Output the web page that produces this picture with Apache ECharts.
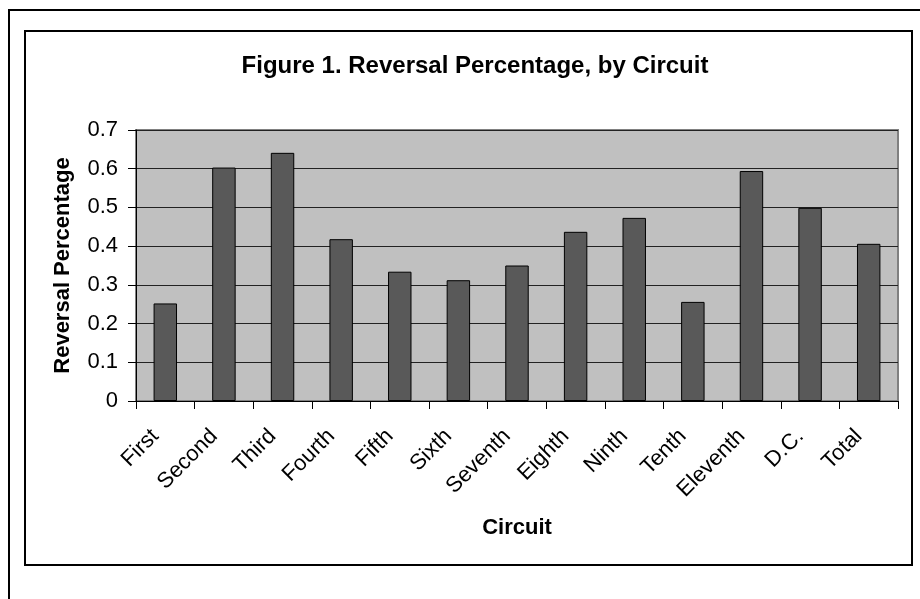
<!DOCTYPE html>
<html><head><meta charset="utf-8">
<script src="https://cdn.jsdelivr.net/npm/echarts@6/dist/echarts.min.js"></script>
<style>html,body{margin:0;padding:0;background:#fff}#c{width:920px;height:599px}</style>
</head><body><div id="c"></div>
<script>
const categories = ['First','Second','Third','Fourth','Fifth','Sixth','Seventh','Eighth','Ninth','Tenth','Eleventh','D.C.','Total'];
const reversalValues = [0.252,0.603,0.641,0.418,0.334,0.312,0.350,0.437,0.473,0.256,0.594,0.499,0.406];
const titleText = 'Figure 1. Reversal Percentage, by Circuit';
const yAxisName = 'Reversal Percentage';
const xAxisName = 'Circuit';

const FONT = '"Liberation Sans", Arial, sans-serif';
const chart = echarts.init(document.getElementById('c'), null, {renderer:'canvas'});
chart.setOption({
  animation:false,
  backgroundColor:'#fff',
  graphic:[
    {type:'rect', shape:{x:9,y:10,width:940,height:640}, style:{fill:'none',stroke:'#000',lineWidth:2}, silent:true, z:-1},
    {type:'rect', shape:{x:25,y:31,width:887,height:534}, style:{fill:'#fff',stroke:'#000',lineWidth:2}, silent:true, z:-1}
  ],
  title:{text:titleText, left:470, top:49, textAlign:'center',
    textStyle:{fontFamily:FONT,fontWeight:'bold',fontSize:24,color:'#000'}},
  grid:{left:136,top:130,right:22,bottom:198,show:true,backgroundColor:'#c0c0c0',borderColor:'#808080',borderWidth:2},
  xAxis:{type:'category',data:categories,
    name:xAxisName,nameLocation:'middle',nameGap:116,
    nameTextStyle:{fontFamily:FONT,fontWeight:'bold',fontSize:22,color:'#000'},
    axisLine:{lineStyle:{color:'#000',width:1}},
    axisTick:{show:true,length:8,lineStyle:{color:'#000'}},
    axisLabel:{rotate:45,fontFamily:FONT,fontSize:22,color:'#000',margin:22,interval:0,padding:[0,14,0,0]}},
  yAxis:{type:'value',min:0,max:0.7,interval:0.1,
    name:yAxisName,nameLocation:'middle',nameGap:62,
    nameTextStyle:{fontFamily:FONT,fontWeight:'bold',fontSize:22,color:'#000'},
    axisLine:{show:true,lineStyle:{color:'#000',width:1}},
    axisTick:{show:true,length:8,lineStyle:{color:'#000'}},
    axisLabel:{fontFamily:FONT,fontSize:22,color:'#000',margin:18,
      formatter:v=>v===0?'0':v.toFixed(1)},
    splitLine:{show:true,lineStyle:{color:'#222',width:1}}},
  series:[{type:'bar',data:reversalValues,barWidth:'40%',
    itemStyle:{color:'#595959',borderColor:'#000',borderWidth:1}}]
});
</script></body></html>
